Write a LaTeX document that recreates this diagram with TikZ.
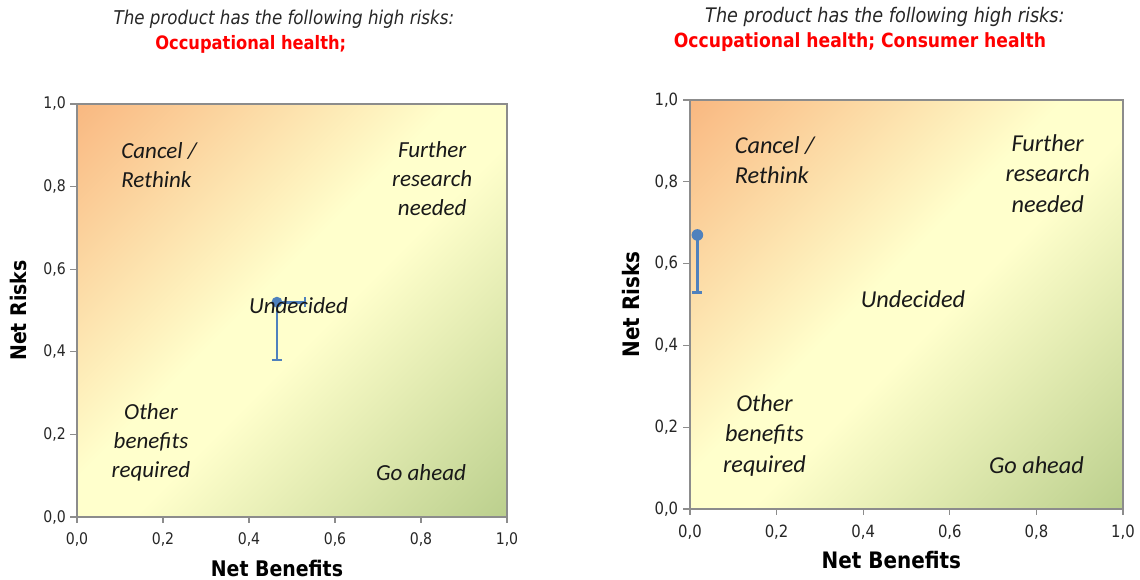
\documentclass[tikz,border=0pt]{standalone}
\usepackage{fontspec}
\usepackage{xcolor}
\usepackage{tikz}
\usetikzlibrary{positioning}

\newfontfamily\chartfont{DejaVu Sans}[FakeStretch=0.88]
\newfontfamily\zonefont{Carlito}

\definecolor{fieldorange}{RGB}{249,185,130}
\definecolor{fieldyellow}{RGB}{255,255,204}
\definecolor{fieldgreen}{RGB}{188,208,142}
\definecolor{markblue}{RGB}{79,129,189}
\definecolor{framegray}{RGB}{140,140,140}

\pgfdeclarehorizontalshading{riskfield}{100bp}{
  color(0bp)=(fieldorange); color(15bp)=(fieldorange); color(46bp)=(fieldyellow);
  color(54bp)=(fieldyellow); color(85bp)=(fieldgreen); color(100bp)=(fieldgreen)}

% one risk/benefit chart: #1 = name prefix, #2 = the error bar of the product
\newcommand{\riskpanel}[2]{%
  \shade[shading=riskfield, shading angle=-45] (0,0) rectangle (1,1);
  \draw[plotframe] (0,0) rectangle (1,1);
  \foreach \v/\lab [count=\i] in {0/{0,0},0.2/{0,2},0.4/{0,4},0.6/{0,6},0.8/{0,8},1/{1,0}} {
    \draw[plotframe] (\v,0) -- ++(0,-6pt);
    \draw[plotframe] (0,\v) -- ++(-7pt,0);
    \node[ticklabel, yshift=-22pt] (#1-x\i) at (\v,0) {\lab};
    \node[ticklabel, anchor=east, xshift=-11pt] (#1-y\i) at (0,\v) {\lab};
  }
  #2
  % zones
  \node[zone, align=left, anchor=west] (#1-cancel) at (0.095,0.853) {Cancel /\\Rethink};
  \node[zone] (#1-further) at (0.826,0.82) {Further\\research\\needed};
  \node[zone] (#1-undecided) at (0.515,0.512) {Undecided};
  \node[zone] (#1-other) at (0.172,0.18) {Other\\benefits\\required};
  \node[zone] (#1-ahead) at (0.8,0.107) {Go ahead};
  % axis titles
  \node[axislabel] (#1-benefits) at (0.465,-0.125) {Net Benefits};
  \node[axislabel, rotate=90] (#1-risks) at (-0.137,0.5) {Net Risks};
}

\begin{document}
\begin{tikzpicture}[
        headline/.style={font=\chartfont\itshape\fontsize{19}{22}\selectfont, text=black!85},
        risklist/.style={font=\chartfont\bfseries\fontsize{18.5}{22}\selectfont, text=red},
        ticklabel/.style={font=\chartfont\fontsize{16}{18}\selectfont, text=black!85, inner sep=0pt},
        axislabel/.style={font=\chartfont\bfseries\fontsize{21.5}{24}\selectfont},
        zone/.style={font=\zonefont\itshape\fontsize{23}{29}\selectfont, align=center, text=black!90},
        plotframe/.style={draw=framegray, line width=1.2pt},
        errbar/.style={draw=markblue, line width=2.8pt},
        markdot/.style={circle, fill=markblue, minimum size=11pt, inner sep=0pt},
    ]
        \useasboundingbox (0,0) rectangle (1140pt,580pt);

        % Left chart
        \begin{scope}[shift={(77pt,63pt)}, x=430pt, y=413pt]
            \riskpanel{l}{%
                \coordinate (l-low) at (0.465,0.38);
                \coordinate (l-high) at (0.53,0.52);
                \draw[errbar] (0.465,0.52) -- (l-low);
                \draw[errbar] (0.465,0.52) -- (l-high);
                \draw[errbar] ([xshift=-5pt]l-low) -- ([xshift=5pt]l-low);
                \draw[errbar] ([yshift=-5pt]l-high) -- ([yshift=5pt]l-high);
                \node[markdot] (l-mark) at (0.465,0.52) {};
            }
            \node[headline] (l-head) at (0.481,1.206) {The product has the following high risks:};
            \node[risklist, anchor=west] (l-risks) at (0.174,1.145) {Occupational health;};
        \end{scope}

        % Right chart
        \begin{scope}[shift={(690pt,71pt)}, x=433pt, y=409pt, every node/.append style={scale=1.055}]
            \riskpanel{r}{%
                \coordinate (r-low) at (0.017,0.53);
                \draw[errbar] (0.017,0.67) -- (r-low);
                \draw[errbar] ([xshift=-5pt]r-low) -- ([xshift=5pt]r-low);
                \node[markdot] (r-mark) at (0.017,0.67) {};
            }
            \node[headline] (r-head) at (0.45,1.203) {The product has the following high risks:};
            \node[risklist, anchor=west] (r-risks) at (-0.046,1.142) {Occupational health; Consumer health};
        \end{scope}
    \end{tikzpicture}
\end{document}
